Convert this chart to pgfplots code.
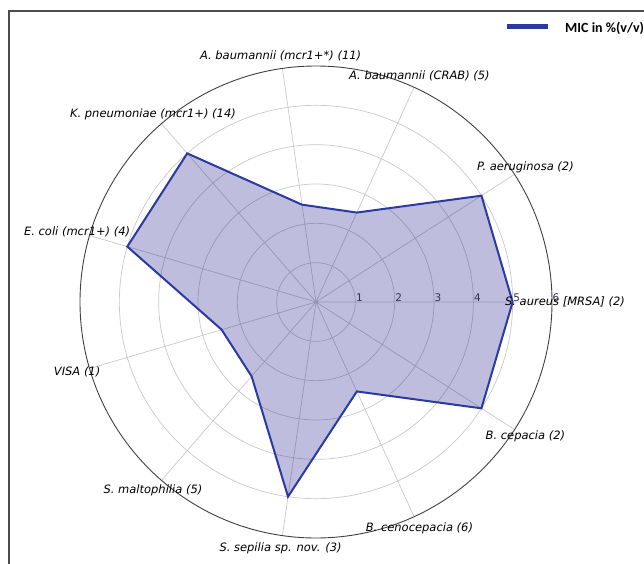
\documentclass[border=0pt]{standalone}
\usepackage{fontspec}
\setmainfont{DejaVu Sans}
\newfontfamily\carlito{Carlito}
\usepackage{pgfplots}
\pgfplotsset{compat=1.18}
\usepgfplotslibrary{polar}

\definecolor{micline}{RGB}{42,58,160}
\definecolor{micfill}{RGB}{40,35,145}
\definecolor{gridgray}{RGB}{200,200,200}
\definecolor{rlabel}{RGB}{50,50,80}

\begin{document}
\begin{tikzpicture}
\useasboundingbox (0pt,0pt) rectangle (644pt,563pt);
% frame of the original figure (cropped on right and bottom)
\draw[black!70, line width=1.1pt] (9pt,-5pt) -- (9pt,552pt) -- (650pt,552pt);

\begin{polaraxis}[
  at={(316pt,261pt)}, anchor=origin,
  scale only axis, width=472pt, height=472pt,
  xmin=0, xmax=360, ymin=0, ymax=6,
  xtick={0,32.7273,65.4545,98.1818,130.9091,163.6364,196.3636,229.0909,261.8182,294.5455,327.2727},
  ytick={1,2,3,4,5},
  xticklabel=\empty, yticklabel=\empty,
  grid=major,
  major grid style={gridgray, line width=0.7pt},
  x axis line style={black!75, line width=0.9pt},
  y axis line style={draw=none},
  major tick length=0pt,
  clip=false,
]
% angle (deg), MIC in %(v/v)
\addplot[micline, line width=2pt, line join=miter, fill=micfill, fill opacity=0.3]
coordinates {
  (0,5) (32.7273,5) (65.4545,2.5) (98.1818,2.5) (130.9091,5) (163.6364,5)
  (196.3636,2.5) (229.0909,2.5) (261.8182,5) (294.5455,2.5) (327.2727,5) (360,5)
};

% radial tick labels
\node[anchor=south west, inner sep=0.5pt, text=rlabel, font=\fontsize{10.5}{12}\selectfont] at (axis cs:0,1) {1};
\node[anchor=south west, inner sep=0.5pt, text=rlabel, font=\fontsize{10.5}{12}\selectfont] at (axis cs:0,2) {2};
\node[anchor=south west, inner sep=0.5pt, text=rlabel, font=\fontsize{10.5}{12}\selectfont] at (axis cs:0,3) {3};
\node[anchor=south west, inner sep=0.5pt, text=rlabel, font=\fontsize{10.5}{12}\selectfont] at (axis cs:0,4) {4};
\node[anchor=south west, inner sep=0.5pt, text=rlabel, font=\fontsize{10.5}{12}\selectfont] at (axis cs:0,5) {5};
\node[anchor=south west, inner sep=0.5pt, text=rlabel, font=\fontsize{10.5}{12}\selectfont] at (axis cs:0,6) {6};

% category labels
\node[font=\itshape\fontsize{11.5}{13}\selectfont] at (axis cs:0,6.33) {S. aureus [MRSA] (2)};
\node[font=\itshape\fontsize{11.5}{13}\selectfont] at (axis cs:32.7273,6.33) {P. aeruginosa (2)};
\node[font=\itshape\fontsize{11.5}{13}\selectfont] at (axis cs:65.4545,6.33) {A. baumannii (CRAB) (5)};
\node[font=\itshape\fontsize{11.5}{13}\selectfont] at (axis cs:98.1818,6.33) {A. baumannii (mcr1+*) (11)};
\node[font=\itshape\fontsize{11.5}{13}\selectfont] at (axis cs:130.9091,6.33) {K. pneumoniae (mcr1+) (14)};
\node[font=\itshape\fontsize{11.5}{13}\selectfont] at (axis cs:163.6364,6.33) {E. coli (mcr1+) (4)};
\node[font=\itshape\fontsize{11.5}{13}\selectfont] at (axis cs:196.3636,6.33) {VISA (1)};
\node[font=\itshape\fontsize{11.5}{13}\selectfont] at (axis cs:229.0909,6.33) {S. maltophilia (5)};
\node[font=\itshape\fontsize{11.5}{13}\selectfont] at (axis cs:261.8182,6.33) {S. sepilia sp. nov. (3)};
\node[font=\itshape\fontsize{11.5}{13}\selectfont] at (axis cs:294.5455,6.33) {B. cenocepacia (6)};
\node[font=\itshape\fontsize{11.5}{13}\selectfont] at (axis cs:327.2727,6.33) {B. cepacia (2)};
\end{polaraxis}

% legend
\draw[micline, line width=5pt] (507pt,536pt) -- (548pt,536pt);
\node[anchor=west, inner sep=0pt, font=\carlito\bfseries\fontsize{14}{16}\selectfont] at (565pt,535pt) {MIC in \%(v/v)};
\end{tikzpicture}
\end{document}
